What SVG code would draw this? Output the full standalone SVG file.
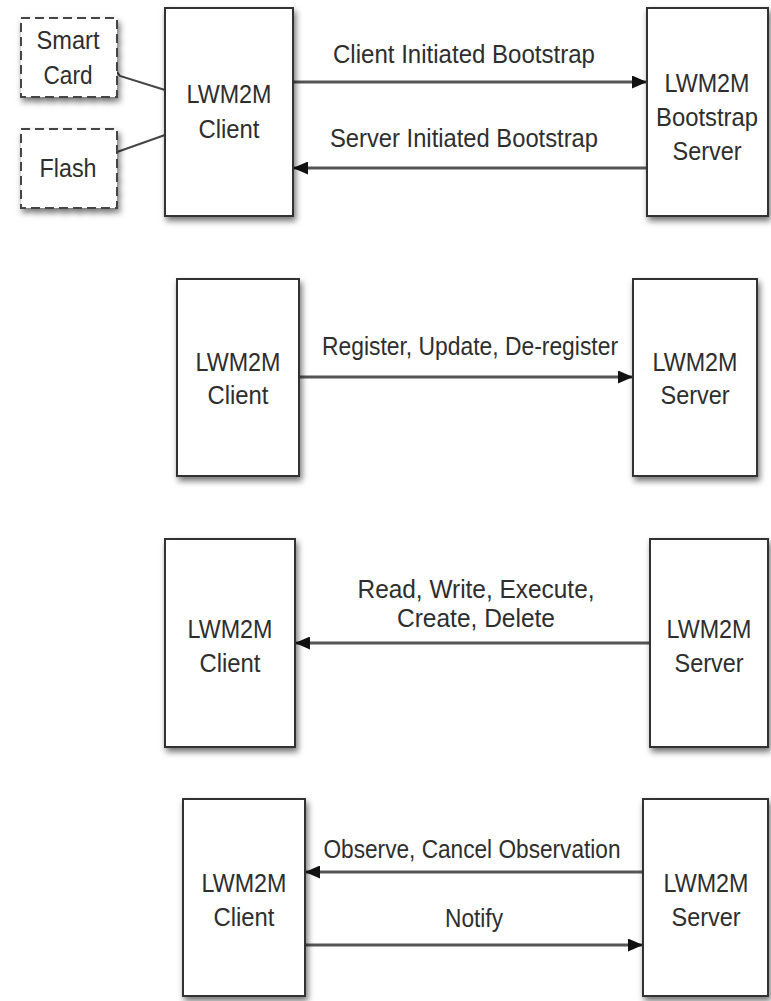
<svg xmlns="http://www.w3.org/2000/svg" width="771" height="1001" viewBox="0 0 771 1001">
<style>
.box{fill:#ffffff;stroke:#333333;stroke-width:2;filter:url(#sh)}
.dbox{fill:#ffffff;stroke:#444444;stroke-width:2;stroke-dasharray:9 5;filter:url(#sh)}
text{font-family:"Liberation Sans",Arial,sans-serif;font-size:26px;fill:#2e2e2e;text-anchor:middle}
.conn{stroke:#555555;stroke-width:3;fill:none}
.plain{stroke:#444444;stroke-width:2;fill:none}
</style>
<defs>
<filter id="sh" x="-10%" y="-10%" width="130%" height="130%">
<feDropShadow dx="2" dy="4" stdDeviation="3" flood-color="#000000" flood-opacity="0.55"/>
</filter>
<marker id="ah" markerWidth="15" markerHeight="13" refX="14" refY="6.5" orient="auto" markerUnits="userSpaceOnUse">
<path d="M0,0 L15,6.5 L0,13 z" fill="#111111"/>
</marker>
</defs>
<rect width="771" height="1001" fill="#ffffff"/>

<g id="connectors">
<polyline class="plain" points="117,72 120,76 165,90"/>
<line class="plain" x1="117" y1="152" x2="165" y2="135"/>
<line class="conn" x1="293" y1="82" x2="646" y2="82" marker-end="url(#ah)"/>
<line class="conn" x1="647" y1="168" x2="294" y2="168" marker-end="url(#ah)"/>
<line class="conn" x1="299" y1="377" x2="632" y2="377" marker-end="url(#ah)"/>
<line class="conn" x1="650" y1="643" x2="296" y2="643" marker-end="url(#ah)"/>
<line class="conn" x1="643" y1="872" x2="306" y2="872" marker-end="url(#ah)"/>
<line class="conn" x1="305" y1="945" x2="642" y2="945" marker-end="url(#ah)"/>
<text x="464" y="63" textLength="262" lengthAdjust="spacingAndGlyphs">Client Initiated Bootstrap</text>
<text x="464" y="147" textLength="268" lengthAdjust="spacingAndGlyphs">Server Initiated Bootstrap</text>
<text x="470" y="355" textLength="296" lengthAdjust="spacingAndGlyphs">Register, Update, De-register</text>
<text x="476" y="598" textLength="237" lengthAdjust="spacingAndGlyphs">Read, Write, Execute,</text>
<text x="476" y="627" textLength="158" lengthAdjust="spacingAndGlyphs">Create, Delete</text>
<text x="472" y="858" textLength="297" lengthAdjust="spacingAndGlyphs">Observe, Cancel Observation</text>
<text x="474" y="927" textLength="58" lengthAdjust="spacingAndGlyphs">Notify</text>
</g>

<g id="smartcard">
<rect class="dbox" x="21" y="18" width="96" height="79"/>
<text x="68" y="49" textLength="63" lengthAdjust="spacingAndGlyphs">Smart</text>
<text x="68" y="84" textLength="49" lengthAdjust="spacingAndGlyphs">Card</text>
</g>
<g id="flash">
<rect class="dbox" x="21" y="129" width="96" height="79"/>
<text x="68" y="177" textLength="57" lengthAdjust="spacingAndGlyphs">Flash</text>
</g>
<g id="client1">
<rect class="box" x="165" y="8" width="128" height="208"/>
<text x="229" y="103" textLength="85" lengthAdjust="spacingAndGlyphs">LWM2M</text>
<text x="229" y="138" textLength="61" lengthAdjust="spacingAndGlyphs">Client</text>
</g>
<g id="bootstrap-server">
<rect class="box" x="647" y="8" width="121" height="208"/>
<text x="707" y="92" textLength="85" lengthAdjust="spacingAndGlyphs">LWM2M</text>
<text x="707" y="126" textLength="102" lengthAdjust="spacingAndGlyphs">Bootstrap</text>
<text x="707" y="160" textLength="69" lengthAdjust="spacingAndGlyphs">Server</text>
</g>

<g id="client2">
<rect class="box" x="177" y="279" width="122" height="197"/>
<text x="238" y="371" textLength="85" lengthAdjust="spacingAndGlyphs">LWM2M</text>
<text x="238" y="404" textLength="61" lengthAdjust="spacingAndGlyphs">Client</text>
</g>
<g id="server2">
<rect class="box" x="633" y="279" width="124" height="197"/>
<text x="695" y="371" textLength="85" lengthAdjust="spacingAndGlyphs">LWM2M</text>
<text x="695" y="404" textLength="69" lengthAdjust="spacingAndGlyphs">Server</text>
</g>

<g id="client3">
<rect class="box" x="165" y="539" width="130" height="208"/>
<text x="230" y="638" textLength="85" lengthAdjust="spacingAndGlyphs">LWM2M</text>
<text x="230" y="672" textLength="61" lengthAdjust="spacingAndGlyphs">Client</text>
</g>
<g id="server3">
<rect class="box" x="650" y="539" width="118" height="208"/>
<text x="709" y="638" textLength="85" lengthAdjust="spacingAndGlyphs">LWM2M</text>
<text x="709" y="672" textLength="69" lengthAdjust="spacingAndGlyphs">Server</text>
</g>

<g id="client4">
<rect class="box" x="183" y="799" width="122" height="197"/>
<text x="244" y="892" textLength="85" lengthAdjust="spacingAndGlyphs">LWM2M</text>
<text x="244" y="926" textLength="61" lengthAdjust="spacingAndGlyphs">Client</text>
</g>
<g id="server4">
<rect class="box" x="643" y="799" width="125" height="197"/>
<text x="706" y="892" textLength="85" lengthAdjust="spacingAndGlyphs">LWM2M</text>
<text x="706" y="926" textLength="69" lengthAdjust="spacingAndGlyphs">Server</text>
</g>
</svg>
